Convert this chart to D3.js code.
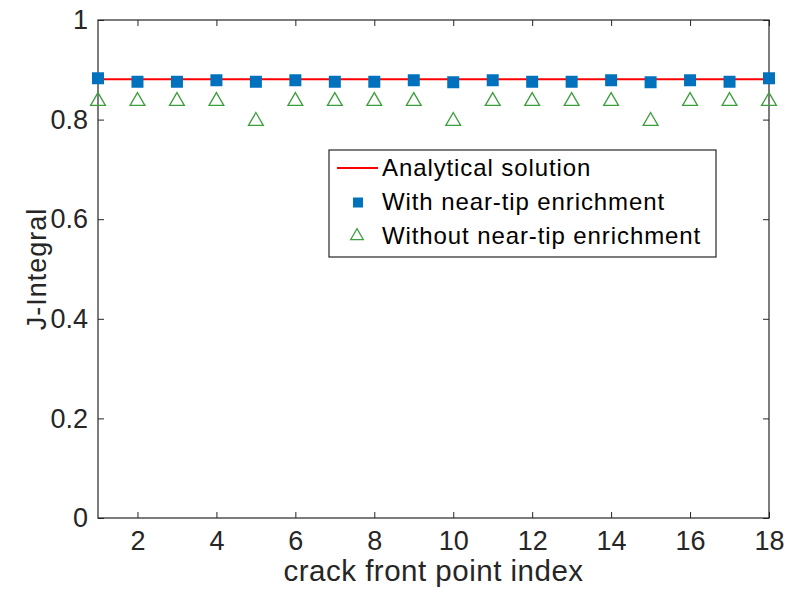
<!DOCTYPE html>
<html>
<head>
<meta charset="utf-8">
<script src="https://cdn.jsdelivr.net/npm/d3@7"></script>
<style>
  html, body { margin: 0; padding: 0; background: #fff; }
  svg { display: block; font-family: "Liberation Sans", Arial, Helvetica, sans-serif; }
</style>
</head>
<body>
<svg id="chart" width="788" height="592"></svg>
<script>
// Crack front point indices and J-integral values
const pointIndex = [1, 2, 3, 4, 5, 6, 7, 8, 9, 10, 11, 12, 13, 14, 15, 16, 17, 18];
const analyticalJ = 0.881;
const withEnrichment = [0.883, 0.876, 0.876, 0.879, 0.876, 0.879, 0.876, 0.876, 0.879,
                        0.875, 0.879, 0.876, 0.876, 0.879, 0.875, 0.879, 0.876, 0.883];
const withoutEnrichment = [0.839, 0.839, 0.839, 0.839, 0.799, 0.839, 0.839, 0.839, 0.839,
                           0.799, 0.839, 0.839, 0.839, 0.839, 0.799, 0.839, 0.839, 0.839];
const xTicks = [2, 4, 6, 8, 10, 12, 14, 16, 18];
const yTicks = [0, 0.2, 0.4, 0.6, 0.8, 1];
const legendLabels = ["Analytical solution", "With near-tip enrichment", "Without near-tip enrichment"];

const svg = d3.select("#chart");
const margin = { left: 98, right: 19, top: 20, bottom: 74 };
const W = 788, H = 592;
const x = d3.scaleLinear().domain([1, 18]).range([margin.left, W - margin.right]);
const y = d3.scaleLinear().domain([0, 1]).range([H - margin.bottom, margin.top]);

const axisColor = "#262626";
const blue = "#0072BD";
const green = "#3a9e3a";

// Axes with inward ticks on all four sides
const tickLen = 6;
const tickFont = 27;
const fmtY = d => d === 0 || d === 1 ? String(d) : d.toFixed(1);

svg.append("g").attr("transform", `translate(0,${y(0)})`)
  .call(d3.axisBottom(x).tickValues(xTicks).tickSizeInner(-tickLen).tickSizeOuter(0).tickPadding(13))
  .call(g => g.select(".domain").remove())
  .call(g => g.selectAll("text").attr("font-size", tickFont).attr("fill", axisColor))
  .call(g => g.selectAll("line").attr("stroke", axisColor));

svg.append("g").attr("transform", `translate(0,${y(1)})`)
  .call(d3.axisTop(x).tickValues(xTicks).tickSizeInner(-tickLen).tickSizeOuter(0).tickFormat(""))
  .call(g => g.select(".domain").remove())
  .call(g => g.selectAll("line").attr("stroke", axisColor));

svg.append("g").attr("transform", `translate(${x(1)},0)`)
  .call(d3.axisLeft(y).tickValues(yTicks).tickFormat(fmtY).tickSizeInner(-tickLen).tickSizeOuter(0).tickPadding(10))
  .call(g => g.select(".domain").remove())
  .call(g => g.selectAll("text").attr("font-size", tickFont).attr("fill", axisColor))
  .call(g => g.selectAll("line").attr("stroke", axisColor));

svg.append("g").attr("transform", `translate(${x(18)},0)`)
  .call(d3.axisRight(y).tickValues(yTicks).tickSizeInner(-tickLen).tickSizeOuter(0).tickFormat(""))
  .call(g => g.select(".domain").remove())
  .call(g => g.selectAll("line").attr("stroke", axisColor));

// Plot box
svg.append("rect")
  .attr("x", x(1)).attr("y", y(1))
  .attr("width", x(18) - x(1)).attr("height", y(0) - y(1))
  .attr("fill", "none").attr("stroke", axisColor).attr("stroke-width", 1.2);

// Analytical solution line
svg.append("line")
  .attr("x1", x(1)).attr("x2", x(18))
  .attr("y1", y(analyticalJ)).attr("y2", y(analyticalJ))
  .attr("stroke", "#ff0000").attr("stroke-width", 2.2);

// Markers: with near-tip enrichment (filled squares)
const sq = 12;
svg.append("g").selectAll("rect")
  .data(pointIndex.map((p, i) => [p, withEnrichment[i]]))
  .join("rect")
  .attr("x", d => x(d[0]) - sq / 2).attr("y", d => y(d[1]) - sq / 2)
  .attr("width", sq).attr("height", sq)
  .attr("fill", blue);

// Markers: without near-tip enrichment (open triangles)
const tri = d3.symbol().type(d3.symbolTriangle).size(95);
svg.append("g").selectAll("path")
  .data(pointIndex.map((p, i) => [p, withoutEnrichment[i]]))
  .join("path")
  .attr("d", tri)
  .attr("transform", d => `translate(${x(d[0])},${y(d[1]) + 1})`)
  .attr("fill", "none").attr("stroke", green).attr("stroke-width", 1.3);

// Axis labels
svg.append("text")
  .attr("x", (x(1) + x(18)) / 2).attr("y", 581)
  .attr("text-anchor", "middle").attr("font-size", 29.5).attr("letter-spacing", 0.5)
  .attr("fill", axisColor)
  .text("crack front point index");

svg.append("text")
  .attr("transform", `translate(46,${(y(0) + y(1)) / 2}) rotate(-90)`)
  .attr("text-anchor", "middle").attr("font-size", 27).attr("letter-spacing", 1)
  .attr("fill", axisColor)
  .text("J-Integral");

// Legend
const lg = svg.append("g").attr("transform", "translate(329,150)");
lg.append("rect").attr("width", 387).attr("height", 107)
  .attr("fill", "#fff").attr("stroke", axisColor).attr("stroke-width", 1.2);
const rowY = [17, 51.5, 85];
lg.append("line").attr("x1", 8).attr("x2", 49).attr("y1", rowY[0] + 1).attr("y2", rowY[0] + 1)
  .attr("stroke", "#ff0000").attr("stroke-width", 2);
lg.append("rect").attr("x", 29 - 5).attr("y", rowY[1] - 4).attr("width", 10).attr("height", 10)
  .attr("fill", blue);
lg.append("path").attr("d", d3.symbol().type(d3.symbolTriangle).size(70))
  .attr("transform", `translate(28,${rowY[2] + 1})`)
  .attr("fill", "none").attr("stroke", green).attr("stroke-width", 1.2);
lg.selectAll("text.lbl").data(legendLabels).join("text")
  .attr("class", "lbl")
  .attr("x", 53).attr("y", (d, i) => rowY[i])
  .attr("dy", "0.36em").attr("font-size", 24).attr("letter-spacing", 0.9).attr("fill", "#000")
  .text(d => d);
</script>
</body>
</html>
